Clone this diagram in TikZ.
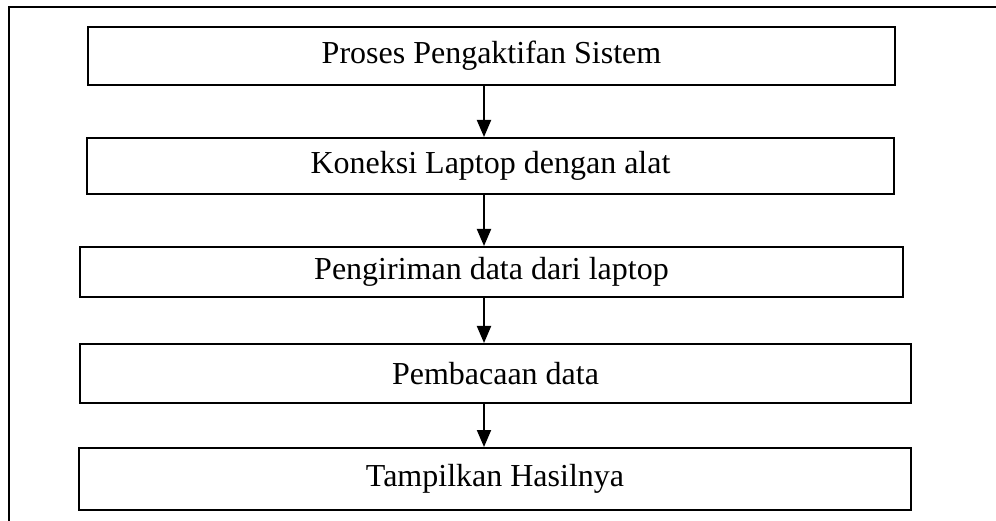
\documentclass[tikz,border=0pt]{standalone}
\usepackage{fontspec}
\setmainfont{Liberation Serif}
\usetikzlibrary{arrows.meta}
\tikzset{
  stepbox/.style={draw, line width=2pt, inner sep=0pt, font=\fontsize{32}{38}\selectfont},
  flowarrow/.style={line width=2pt, -{Triangle[width=14pt,length=17pt]}}
}
\begin{document}
\begin{tikzpicture}[x=1pt, y=-1pt]
	\useasboundingbox (0,0) rectangle (996,521);
	% outer frame
	\draw[line width=2pt] (9,521) -- (9,7) -- (996,7);

	\node[stepbox, minimum width=807pt, minimum height=58pt] (aktif) at (491.5,56) {Proses Pengaktifan Sistem};
	\node[stepbox, minimum width=807pt, minimum height=56pt] (koneksi) at (490.5,166) {Koneksi Laptop dengan alat};
	\node[stepbox, minimum width=823pt, minimum height=50pt] (kirim) at (491.5,272) {Pengiriman data dari laptop};
	\node[stepbox, minimum width=831pt, minimum height=59pt] (baca) at (495.5,373.5) {Pembacaan data};
	\node[stepbox, minimum width=832pt, minimum height=62pt] (hasil) at (495,479) {Tampilkan Hasilnya};

	\coordinate (ax) at (484,0);
	\draw[flowarrow] (aktif.south -| ax) -- (koneksi.north -| ax);
	\draw[flowarrow] (koneksi.south -| ax) -- (kirim.north -| ax);
	\draw[flowarrow] (kirim.south -| ax) -- (baca.north -| ax);
	\draw[flowarrow] (baca.south -| ax) -- (hasil.north -| ax);
\end{tikzpicture}
\end{document}
